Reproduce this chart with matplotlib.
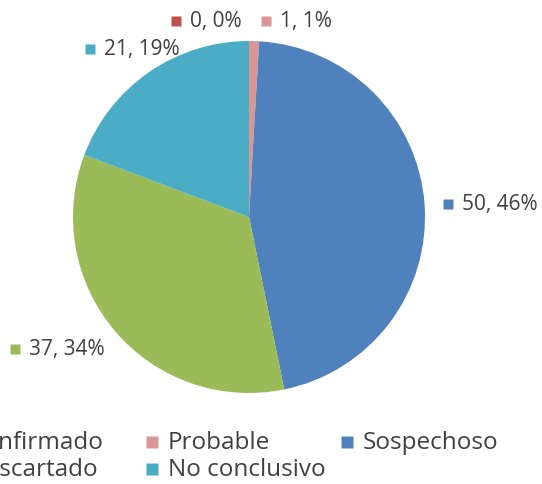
import numpy as np
import matplotlib.pyplot as plt

categorias = ["Confirmado", "Probable", "Sospechoso", "Descartado", "No conclusivo"]
casos = [0, 1, 50, 37, 21]
colores = ["#C0504D", "#D99694", "#4F81BD", "#9BBB59", "#4BACC6"]

W, H = 542, 485
R = 176.0          # pie radius in px
cx, cy = 249, 218  # pie centre in px (from top-left)

plt.rcParams['font.family'] = ['Open Sans', 'DejaVu Sans']
gris = "#404040"

fig = plt.figure(figsize=(W / 100, H / 100), dpi=100)
ax = fig.add_axes([0, 0, 1, 1])

ax.pie(casos, colors=colores, startangle=90, counterclock=False,
       radius=1, center=(0, 0), wedgeprops=dict(linewidth=0))
ax.set_xlim(-cx / R, (W - cx) / R)
ax.set_ylim(-(H - cy) / R, cy / R)
ax.axis('off')


def px(x, y):
    # pixel position -> data units
    return (x - cx) / R, (cy - y) / R


def etiqueta(x, y, color, texto, size=12, ms=7.5, gap=14):
    mx, my = px(x, y)
    ax.plot(mx, my, marker='s', ms=ms, color=color, mec='none')
    tx, _ = px(x + gap, y)
    ax.text(tx, my, texto, ha='left', va='center', fontsize=size, color=gris)


# data labels "valor, porcentaje"
total = sum(casos)
textos = [f"{v}, {round(100 * v / total)}%" for v in casos]
pos_etiquetas = [(176, 22), (266, 22), (448, 205), (15, 350), (90, 50)]
for (x, y), c, t in zip(pos_etiquetas, colores, textos):
    etiqueta(x, y, c, t, size=15)

# legend, three columns (first column runs off the left edge)
col_x = [-47, 152, 347]
fila_y = [443, 470]
for k in range(len(categorias)):
    fila, col = divmod(k, 3)
    etiqueta(col_x[col], fila_y[fila], colores[k], categorias[k],
             size=17.5, ms=8.5, gap=15.5)

fig.savefig("out.png", dpi=100)
